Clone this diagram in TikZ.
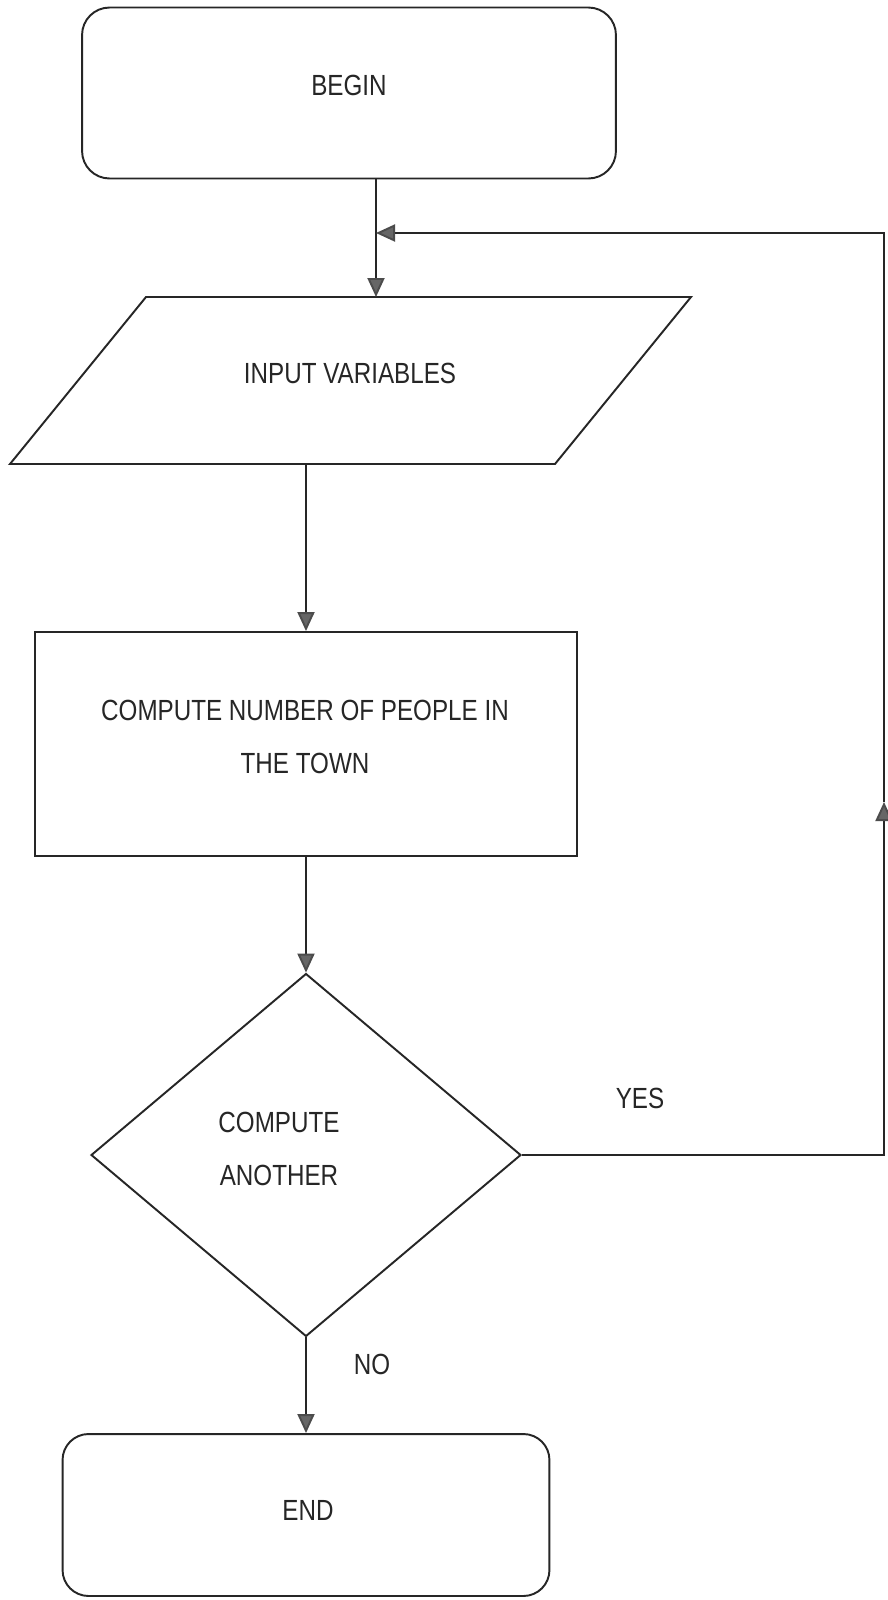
\documentclass[tikz,border=0pt]{standalone}
\usepackage{fontspec}
\setmainfont{Liberation Sans}[FakeStretch=0.83]
\usetikzlibrary{arrows.meta,shapes.geometric}
\begin{document}
\begin{tikzpicture}[x=0.02cm,y=-0.02cm,
  line/.style={draw=black!85, line width=1.1pt},
  flow/.style={line, -{Triangle[length=0.38cm,width=0.34cm,color=black!70,fill=black!60]}},
  txt/.style={font=\fontsize{16.6}{30.5}\selectfont, text=black!85, inner sep=0pt, align=center},
  terminal/.style={line, rectangle, rounded corners=0.55cm, inner sep=0pt},
  procbox/.style={line, rectangle, inner sep=0pt},
  decision/.style={line, diamond, inner sep=0pt}
]
\useasboundingbox (0,0) rectangle (888,1600);
\fill[white] (0,0) rectangle (888,1600);

% start terminal
\node[terminal, minimum width=10.68cm, minimum height=3.42cm] (begin) at (349,93) {};
\node[txt] (tbegin) at (349,85) {BEGIN};

% input parallelogram (slant = one fifth of the width)
\draw[line] (146,297) coordinate (inTL) -- (691,297) coordinate (inTR)
  -- (555,464) coordinate (inBR) -- (10,464) coordinate (inBL) -- cycle;
\node[txt] (input) at (350,373) {INPUT VARIABLES};

% process box
\node[procbox, minimum width=10.84cm, minimum height=4.48cm] (compute) at (306,744) {};
\node[txt] (tcompute) at (305,737) {COMPUTE NUMBER OF PEOPLE IN\\THE TOWN};

% decision
\node[decision, minimum width=8.60cm, minimum height=7.26cm] (decide) at (306,1155) {};
\node[txt] (tdecide) at (279,1149) {COMPUTE\\ANOTHER};

% end terminal
\node[terminal, rounded corners=0.52cm, minimum width=9.74cm, minimum height=3.24cm] (end) at (306,1515) {};
\node[txt] (tend) at (308,1510) {END};

% loop coordinates
\coordinate (join) at (376,233);
\coordinate (rt) at (884,233);
\coordinate (yesturn) at (884,1155);
\coordinate (upmark) at (884,802);

% connectors
\draw[flow] (begin.south -| join) -- (join |- inTL);
\draw[flow] (inBL -| compute.north) -- (compute.north);
\draw[flow] (compute.south) -- (decide.north);
\draw[flow] (decide.south) -- (end.north);
\draw[flow] (decide.east) -- (yesturn) -- (upmark);
\draw[flow] (upmark) -- (rt) -- (join);

% branch labels
\node[txt] (yes) at (640,1098) {YES};
\node[txt] (no) at (372,1364) {NO};
\end{tikzpicture}
\end{document}
